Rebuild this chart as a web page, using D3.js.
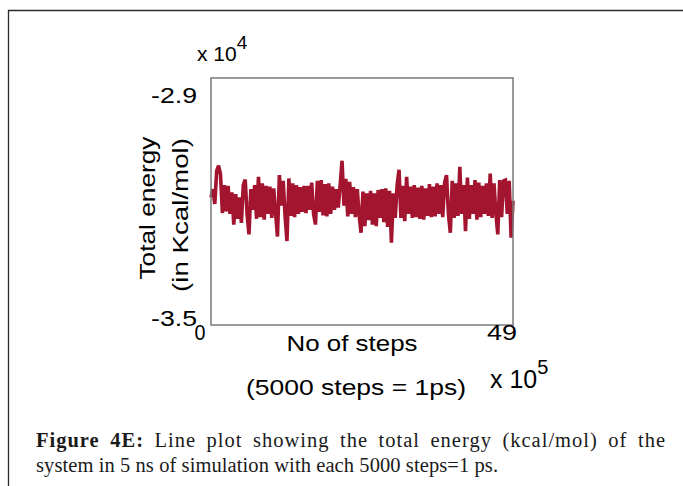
<!DOCTYPE html>
<html>
<head>
<meta charset="utf-8">
<script src="https://cdn.jsdelivr.net/npm/d3@7"></script>
<style>
  html, body { margin: 0; padding: 0; background: #fff; }
  svg { display: block; }
</style>
</head>
<body>
<svg id="chart" width="683" height="486"></svg>
<script>
// Total energy (kcal/mol) sampled along the trajectory, steps in units of 10^5
const energy = [
  -31900, -31700, -32060, -31250, -31130,
  -31340, -32280, -31600, -32240, -31620,
  -32300, -31780, -32560, -31820, -32420,
  -31900, -32520, -31600, -31470, -32300,
  -32800, -31700, -32200, -31600, -32420,
  -31400, -32380, -31560, -32440, -31620,
  -32300, -31640, -32400, -31680, -32280,
  -32850, -31360, -32100, -31500, -32350,
  -32960, -31440, -32350, -31560, -32380,
  -31600, -32300, -31650, -32250, -31620,
  -32280, -31620, -32200, -31540, -32300,
  -32560, -31500, -32250, -31480, -32340,
  -31580, -32360, -31560, -32300, -31640,
  -32200, -31700, -32150, -31600, -31010,
  -32100, -31450, -32360, -31520, -32300,
  -31650, -32380, -31700, -32330, -32760,
  -31760, -32600, -31800, -32450, -31740,
  -32560, -31800, -32600, -31720, -32400,
  -31700, -32500, -31680, -32620, -31740,
  -33000, -31800, -32400, -31600, -31230,
  -32400, -31620, -32480, -31400, -32300,
  -31640, -32400, -31600, -32380, -31660,
  -32420, -31620, -32440, -31680, -32350,
  -31580, -32380, -31640, -32360, -31560,
  -32300, -31600, -32380, -31540, -31360,
  -32300, -32760, -31500, -32400, -31560,
  -32350, -31160, -32300, -31600, -32720,
  -31420, -32420, -31600, -32300, -31480,
  -32440, -31540, -32380, -31620, -32300,
  -31560, -32350, -31320, -32400, -31560,
  -32300, -32800, -31480, -32380, -31500,
  -31480, -32300, -31500, -32880, -31980
];
const stepMax = 49;                 // x axis end (x 10^5 steps)
const steps = energy.map((_, i) => i * stepMax / (energy.length - 1));

const xTicks = [0, 49];
const xTickLabels = ["0", "49"];
const yTicks = [-29000, -35000];
const yTickLabels = ["-2.9", "-3.5"];

const svg = d3.select("#chart");

// page frame
svg.append("path")
  .attr("d", "M8.5,490 V10.5 H690")
  .attr("fill", "none")
  .attr("stroke", "#2b2b2b")
  .attr("stroke-width", 1.3);

const plot = { left: 211, right: 513, top: 78, bottom: 325 };

const x = d3.scaleLinear().domain([0, stepMax]).range([plot.left, plot.right]);
const y = d3.scaleLinear().domain([-35000, -29000]).range([plot.bottom, plot.top]);

const sans = "'Liberation Sans', Arial, sans-serif";

// energy trace
const line = d3.line()
  .x((d, i) => x(steps[i]))
  .y(d => y(d));

svg.append("path")
  .datum(energy)
  .attr("d", line)
  .attr("fill", "none")
  .attr("stroke", "#a3142f")
  .attr("stroke-width", 3.6)
  .attr("stroke-linejoin", "miter")
  .attr("stroke-miterlimit", 3);

// axes box
svg.append("rect")
  .attr("x", x(0))
  .attr("y", y(-29000))
  .attr("width", x(stepMax) - x(0))
  .attr("height", y(-35000) - y(-29000))
  .attr("fill", "none")
  .attr("stroke", "#7a7a7a")
  .attr("stroke-width", 1.5);

// y tick labels
const yOff = [17, -7];
svg.selectAll("text.ytick")
  .data(yTicks)
  .join("text")
  .attr("class", "ytick")
  .attr("x", plot.left - 14)
  .attr("y", (d, i) => y(d) + yOff[i])
  .attr("dy", "0.35em")
  .attr("text-anchor", "end")
  .attr("font-family", sans)
  .attr("font-size", 22)
  .attr("textLength", 46)
  .attr("lengthAdjust", "spacingAndGlyphs")
  .text((d, i) => yTickLabels[i]);

// x tick labels
const xOff = [-11, -11];
const xLen = [11, 30];
svg.selectAll("text.xtick")
  .data(xTicks)
  .join("text")
  .attr("class", "xtick")
  .attr("x", (d, i) => x(d) + xOff[i])
  .attr("y", plot.bottom + 15)
  .attr("text-anchor", "middle")
  .attr("font-family", sans)
  .attr("font-size", 22)
  .attr("textLength", (d, i) => xLen[i])
  .attr("lengthAdjust", "spacingAndGlyphs")
  .text((d, i) => xTickLabels[i]);

// exponent markers: base text with a raised power in one text element
function exponent(xp, yp, power, size, supSize, rise) {
  const t = svg.append("text")
    .attr("x", xp).attr("y", yp)
    .attr("font-family", sans)
    .attr("font-size", size)
    .attr("fill", "#000");
  t.append("tspan").text("x 10");
  t.append("tspan").attr("dy", -rise).attr("font-size", supSize).text(power);
}
exponent(197, 61, "4", 21, 19, 12);
exponent(490, 388, "5", 25, 20, 14);

// axis titles
svg.append("text")
  .attr("x", 352).attr("y", 351)
  .attr("text-anchor", "middle")
  .attr("font-family", sans)
  .attr("font-size", 22)
  .attr("textLength", 131)
  .attr("lengthAdjust", "spacingAndGlyphs")
  .text("No of steps");

svg.append("text")
  .attr("x", 356).attr("y", 395)
  .attr("text-anchor", "middle")
  .attr("font-family", sans)
  .attr("font-size", 22)
  .attr("textLength", 220)
  .attr("lengthAdjust", "spacingAndGlyphs")
  .text("(5000 steps = 1ps)");

svg.append("text")
  .attr("transform", "translate(155,208) rotate(-90)")
  .attr("text-anchor", "middle")
  .attr("font-family", sans)
  .attr("font-size", 22)
  .attr("textLength", 143)
  .attr("lengthAdjust", "spacingAndGlyphs")
  .text("Total energy");

svg.append("text")
  .attr("transform", "translate(188,215) rotate(-90)")
  .attr("text-anchor", "middle")
  .attr("font-family", sans)
  .attr("font-size", 22)
  .attr("textLength", 154)
  .attr("lengthAdjust", "spacingAndGlyphs")
  .text("(in Kcal/mol)");

// caption, first line justified by widening the word gaps
const serif = "'Liberation Serif', 'Times New Roman', serif";
const cap1 = svg.append("text")
  .attr("x", 36).attr("y", 447)
  .attr("font-family", serif)
  .attr("font-size", 20.5)
  .attr("letter-spacing", 1)
  .attr("fill", "#1a1a1a");
cap1.append("tspan").attr("font-weight", "bold").text("Figure 4E:");
cap1.append("tspan").text(" Line plot showing the total energy (kcal/mol) of the");
const natural = cap1.node().getComputedTextLength();
const gaps = 10;
cap1.attr("word-spacing", Math.max(0, (630 - natural) / gaps));

svg.append("text")
  .attr("x", 36).attr("y", 472)
  .attr("font-family", serif)
  .attr("font-size", 20.5)
  .attr("fill", "#1a1a1a")
  .attr("textLength", 462)
  .attr("lengthAdjust", "spacing")
  .text("system in 5 ns of simulation with each 5000 steps=1 ps.");
</script>
</body>
</html>
